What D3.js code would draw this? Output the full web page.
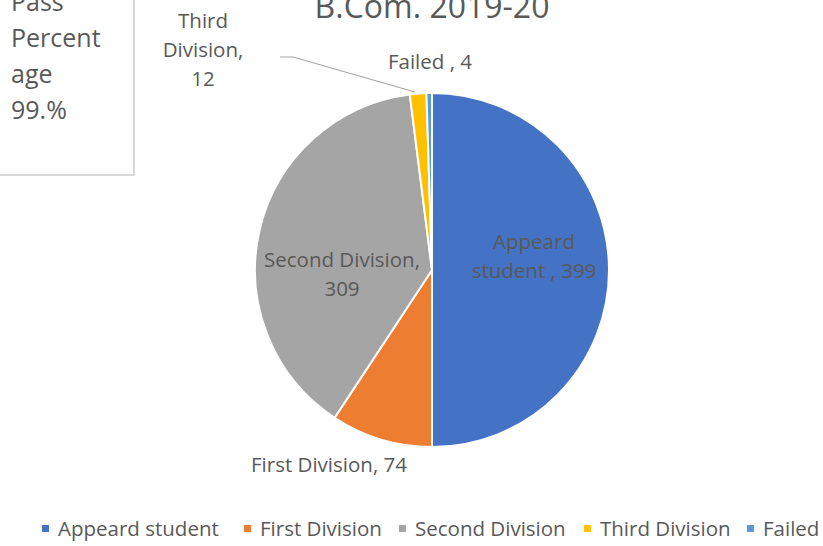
<!DOCTYPE html>
<html><head><meta charset="utf-8">
<script src="https://cdn.jsdelivr.net/npm/d3@7"></script>
<style>body{margin:0;background:#fff}svg{display:block}text{font-family:"Open Sans",Lato,sans-serif;fill:#595959}</style>
</head><body><svg id="c" width="823" height="546"></svg>
<script>
const categories = ["Appeard student","First Division","Second Division","Third Division","Failed"];
const values = [399,74,309,12,4];
const colors = ["#4472C4","#ED7D31","#A5A5A5","#FFC000","#5B9BD5"];
const title = "B.Com. 2019-20";
const noteLines = ["Pass","Percent","age","99.%"];

const svg = d3.select("#c");
const cx = 432, cy = 270, r = 177;

svg.append("text").attr("x",432).attr("y",18).attr("text-anchor","middle")
  .style("font-size","32px").text(title);

// note box
svg.append("rect").attr("x",-5).attr("y",-5).attr("width",139).attr("height",180)
  .attr("fill","#fff").attr("stroke","#BFBFBF").attr("stroke-width",1.2);
noteLines.forEach((t,i)=>svg.append("text").attr("x",11).attr("y",11+i*36)
  .style("font-size","25px").text(t));

const pie = d3.pie().sort(null).value(d=>d)(values);
const arc = d3.arc().innerRadius(0).outerRadius(r);
const g = svg.append("g").attr("transform",`translate(${cx},${cy})`);
g.selectAll("path").data(pie).join("path").attr("d",arc)
  .attr("fill",(d,i)=>colors[i]).attr("stroke","#fff").attr("stroke-width",2);

// leader line for third division
svg.append("polyline").attr("points","280,57 293,57 415,92")
  .attr("fill","none").attr("stroke","#A6A6A6").attr("stroke-width",1.2);

const fs = "20.5px";
function lbl(lines,x,y,anchor){
  lines.forEach((t,i)=>svg.append("text").attr("x",x).attr("y",y+i*29)
    .attr("text-anchor",anchor||"middle").style("font-size",fs).text(t));
}
lbl(["Third","Division,",String(values[3])],203,28);
lbl(["Failed  , "+values[4]],430,69);
lbl(["Appeard","student , "+values[0]],534,249);
lbl(["Second Division,",String(values[2])],342,267);
lbl(["First Division, "+values[1]],329,472);

// legend
const legX = [58,260,415,600,763];
categories.forEach((c,i)=>{
  svg.append("rect").attr("x",legX[i]-16).attr("y",525).attr("width",7).attr("height",7).attr("fill",colors[i]);
  svg.append("text").attr("x",legX[i]).attr("y",536).style("font-size","20.5px").text(c);
});
</script></body></html>
